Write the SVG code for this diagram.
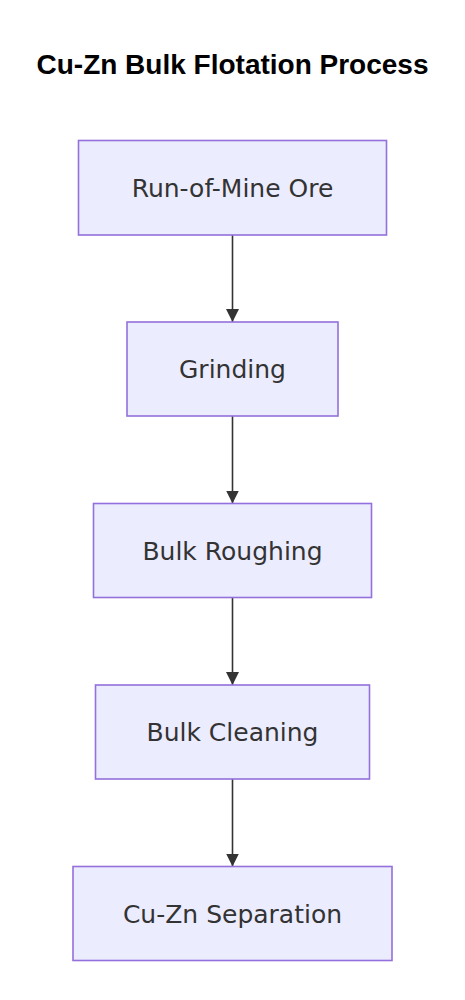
<svg xmlns="http://www.w3.org/2000/svg" width="465" height="1000" viewBox="0 0 465 1000">
<defs>
<style>
.node rect{fill:#ECECFF;stroke:#9370DB;stroke-width:1.6}
.node text{font-family:"DejaVu Sans",Verdana,sans-serif;font-size:25px;fill:#333;text-anchor:middle}
.title{font-family:"Liberation Sans",Arial,sans-serif;font-weight:bold;font-size:28px;fill:#000;text-anchor:middle}
.edge{stroke:#333;stroke-width:1.6;fill:none}
</style>
<marker id="arrow" viewBox="0 0 10 10" refX="10" refY="5" markerUnits="userSpaceOnUse" markerWidth="13" markerHeight="14" orient="auto">
<path d="M0,0 L10,5 L0,10 z" fill="#333"/>
</marker>
</defs>
<rect width="465" height="1000" fill="#fff"/>
<text class="title" x="232.5" y="73.5">Cu-Zn Bulk Flotation Process</text>
<g id="edges">
<line class="edge" x1="232.5" y1="235" x2="232.5" y2="322" marker-end="url(#arrow)"/>
<line class="edge" x1="232.5" y1="416" x2="232.5" y2="503.5" marker-end="url(#arrow)"/>
<line class="edge" x1="232.5" y1="597.5" x2="232.5" y2="685" marker-end="url(#arrow)"/>
<line class="edge" x1="232.5" y1="779" x2="232.5" y2="866.5" marker-end="url(#arrow)"/>
</g>
<g id="n1" class="node"><rect x="78.5" y="140.5" width="308" height="94.5"/><text x="232.5" y="196.5">Run-of-Mine Ore</text></g>
<g id="n2" class="node"><rect x="127" y="322" width="211" height="94"/><text x="232.5" y="378">Grinding</text></g>
<g id="n3" class="node"><rect x="93.5" y="503.5" width="278" height="94"/><text x="232.5" y="559.5">Bulk Roughing</text></g>
<g id="n4" class="node"><rect x="95.5" y="685" width="274" height="94"/><text x="232.5" y="741">Bulk Cleaning</text></g>
<g id="n5" class="node"><rect x="73" y="866.5" width="319" height="94"/><text x="232.5" y="922.5">Cu-Zn Separation</text></g>
</svg>
